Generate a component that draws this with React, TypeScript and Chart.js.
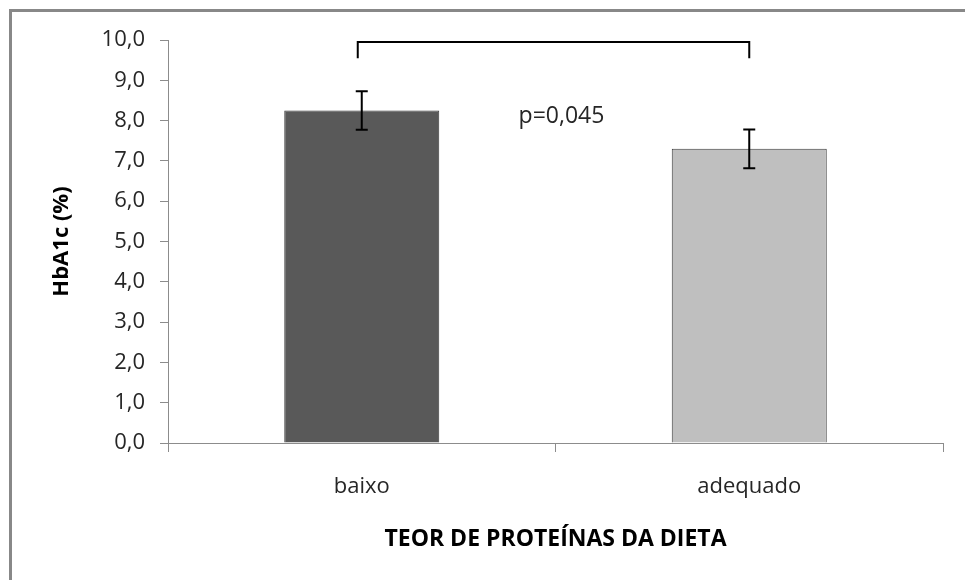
import React, { useEffect, useRef } from "react";
import { Chart, registerables } from "chart.js";

Chart.register(...registerables);

const categories = ["baixo", "adequado"];
const means = [8.25, 7.3];
const errors = [0.48, 0.48];
const barColors = ["#595959", "#bfbfbf"];
const yTicks = [0, 1, 2, 3, 4, 5, 6, 7, 8, 9, 10];
const bracketTop = 9.95;
const bracketLegBottom = 9.55;
const pLabel = "p=0,045";
const pLabelValue = 8.1;
const yTitle = "HbA1c (%)";
const xTitle = "TEOR DE PROTEÍNAS DA DIETA";

const FONT = "'Open Sans', 'Noto Sans', sans-serif";

const overlayPlugin = {
  id: "overlay",
  beforeDraw(chart: any) {
    const ctx = chart.ctx;
    ctx.save();
    ctx.fillStyle = "#ffffff";
    ctx.fillRect(0, 0, chart.width, chart.height);
    ctx.fillStyle = "#888888";
    ctx.fillRect(9, 9, chart.width - 9, 3);
    ctx.fillRect(9, 9, 3, chart.height - 9);
    ctx.restore();
  },
  afterDatasetsDraw(chart: any) {
    const ctx = chart.ctx;
    const xs = chart.scales.x;
    const ys = chart.scales.y;
    ctx.save();
    ctx.strokeStyle = "#000000";
    ctx.lineWidth = 2;
    // error bars
    means.forEach((m, i) => {
      const x = xs.getPixelForValue(i);
      const yTop = ys.getPixelForValue(m + errors[i]);
      const yBot = ys.getPixelForValue(m - errors[i]);
      ctx.beginPath();
      ctx.moveTo(x, yTop);
      ctx.lineTo(x, yBot);
      ctx.moveTo(x - 6, yTop);
      ctx.lineTo(x + 6, yTop);
      ctx.moveTo(x - 6, yBot);
      ctx.lineTo(x + 6, yBot);
      ctx.stroke();
    });
    // bracket
    const x0 = xs.getPixelForValue(0) - 4;
    const x1 = xs.getPixelForValue(1);
    const yb = ys.getPixelForValue(bracketTop);
    const yl = ys.getPixelForValue(bracketLegBottom);
    ctx.beginPath();
    ctx.moveTo(x0, yl);
    ctx.lineTo(x0, yb);
    ctx.lineTo(x1, yb);
    ctx.lineTo(x1, yl);
    ctx.stroke();
    // p label
    ctx.fillStyle = "#262626";
    ctx.font = `23px ${FONT}`;
    ctx.textAlign = "center";
    ctx.textBaseline = "middle";
    ctx.fillText(pLabel, xs.getPixelForValue(0.5) + 6, ys.getPixelForValue(pLabelValue));
    ctx.restore();
  },
};

export default function App() {
  const ref = useRef<HTMLCanvasElement | null>(null);
  useEffect(() => {
    if (!ref.current) return;
    const chart = new Chart(ref.current, {
      type: "bar",
      data: {
        labels: categories,
        datasets: [
          {
            data: means,
            backgroundColor: barColors,
            borderColor: "#3a3a3a",
            borderWidth: 1,
            barPercentage: 0.4,
            categoryPercentage: 1,
          },
        ],
      },
      options: {
        animation: false,
        responsive: false,
        maintainAspectRatio: false,
        layout: { padding: { top: 40, right: 22, left: 0, bottom: 0 } },
        plugins: { legend: { display: false }, tooltip: { enabled: false } },
        scales: {
          x: {
            afterFit: (s: any) => {
              s.height = 137;
            },
            grid: {
              offset: true,
              drawOnChartArea: false,
              drawTicks: true,
              tickLength: 9,
              color: "#8c8c8c",
            },
            border: { color: "#8c8c8c", width: 1 },
            ticks: {
              color: "#262626",
              font: { family: FONT, size: 22 },
              padding: 22,
            },
            title: {
              display: true,
              text: xTitle,
              color: "#000000",
              font: { family: FONT, size: 23, weight: "bold" },
              padding: { top: 0, bottom: 27 },
            },
          },
          y: {
            min: 0,
            max: 10,
            afterFit: (s: any) => {
              s.width = 168;
            },
            afterBuildTicks: (s: any) => {
              s.ticks = yTicks.map((v) => ({ value: v }));
            },
            grid: {
              drawOnChartArea: false,
              drawTicks: true,
              tickLength: 8,
              color: "#8c8c8c",
            },
            border: { color: "#8c8c8c", width: 1 },
            ticks: {
              color: "#262626",
              font: { family: FONT, size: 22 },
              padding: 15,
              callback: (v: any) => Number(v).toFixed(1).replace(".", ","),
            },
            title: {
              display: true,
              text: yTitle,
              color: "#000000",
              font: { family: FONT, size: 22, weight: "bold" },
              padding: { top: 49, bottom: 0 },
            },
          },
        },
      },
      plugins: [overlayPlugin],
    });
    return () => chart.destroy();
  }, []);
  return (
    <div style={{ position: "absolute", left: 0, top: 0, width: 965, height: 580 }}>
      <canvas ref={ref} width={965} height={580} style={{ width: 965, height: 580 }} />
    </div>
  );
}
